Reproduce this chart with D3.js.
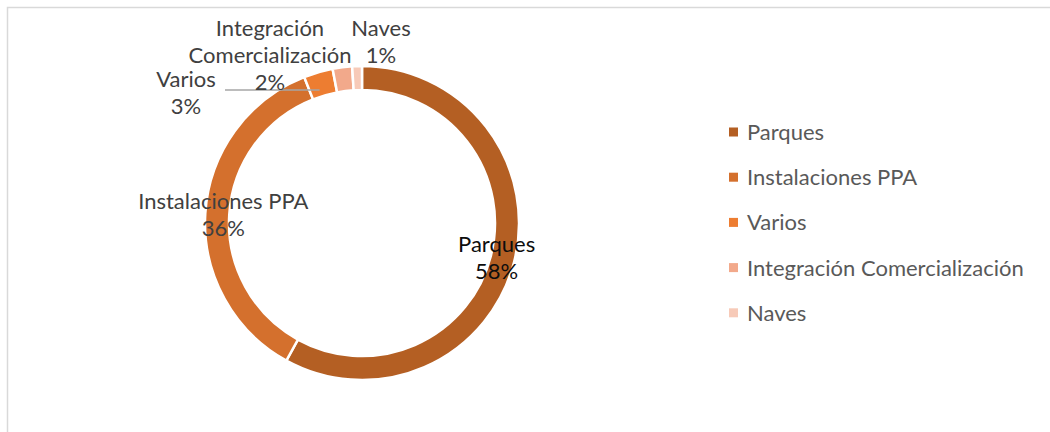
<!DOCTYPE html>
<html>
<head>
<meta charset="utf-8">
<script src="https://d3js.org/d3.v7.min.js"></script>
<style>
  body { margin: 0; background: #fff; }
  svg { display: block; font-family: Lato, "Open Sans", sans-serif; }
</style>
</head>
<body>
<svg id="chart" width="1050" height="432"></svg>
<script>

// data
var categories = ["Parques", "Instalaciones PPA", "Varios", "Integración Comercialización", "Naves"];
var values = [58, 36, 3, 2, 1];
var pctLabels = ["58%", "36%", "3%", "2%", "1%"];
var colors = ["#b45f23", "#d4702d", "#ed7d31", "#f2a98b", "#f7cab8"];

// label text lines (Excel wraps the long name)
var labelNames = [["Parques"], ["Instalaciones PPA"], ["Varios"], ["Integración", "Comercialización"], ["Naves"]];

var svg = d3.select("#chart");
var W = +svg.attr("width"), H = +svg.attr("height");

var cx = 362, cy = 223;
var rOuter = 157, rInner = 133;

// chart frame (only top and left visible)
svg.append("path")
  .attr("d", "M 7.5 " + H + " L 7.5 7.5 L " + W + " 7.5")
  .attr("fill", "none")
  .attr("stroke", "#d9d9d9")
  .attr("stroke-width", 1.5);

var pie = d3.pie().sort(null).value(function(d){ return d; });
var arcs = pie(values);

var arc = d3.arc().innerRadius(rInner).outerRadius(rOuter);
var labelArc = d3.arc().innerRadius(139).outerRadius(139);

var g = svg.append("g").attr("transform", "translate(" + cx + "," + cy + ")");

g.selectAll("path.slice")
  .data(arcs)
  .enter()
  .append("path")
  .attr("class", "slice")
  .attr("d", arc)
  .attr("fill", function(d, i){ return colors[i]; })
  .attr("stroke", "#fff")
  .attr("stroke-width", 2.5);

// small slices have labels dragged outside the ring (offsets from centre)
var outsideLabel = {
  2: [-176, -131],
  3: [-92, -168],
  4: [19, -182]
};

var lineH = 27;

// leader line for Varios
g.append("line")
  .attr("x1", outsideLabel[2][0] + 39).attr("y1", -133)
  .attr("x2", arc.centroid(arcs[2])[0] - 2).attr("y2", -133)
  .attr("stroke", "#a6a6a6")
  .attr("stroke-width", 1.5);

arcs.forEach(function(d, i){
  var p = outsideLabel[i] ? outsideLabel[i] : labelArc.centroid(d);
  var lines = labelNames[i].concat([pctLabels[i]]);
  var top = p[1] - (lines.length - 1) * lineH / 2;
  var t = g.append("text")
    .attr("text-anchor", "middle")
    .attr("font-size", "22px")
    .attr("fill", i == 0 ? "#0d0d0d" : "#404040");
  lines.forEach(function(s, k){
    t.append("tspan")
      .attr("x", p[0])
      .attr("y", top + k * lineH + 8)
      .text(s);
  });
});

// legend
var legend = svg.append("g").attr("transform", "translate(729,132)");
var rows = legend.selectAll("g")
  .data(categories)
  .enter()
  .append("g")
  .attr("transform", function(d, i){ return "translate(0," + (i * 45.2) + ")"; });

rows.append("rect")
  .attr("x", 0).attr("y", -4.5)
  .attr("width", 9).attr("height", 9)
  .attr("fill", function(d, i){ return colors[i]; });

rows.append("text")
  .attr("x", 18)
  .attr("y", 8)
  .attr("font-size", "22px")
  .attr("fill", "#595959")
  .text(function(d){ return d; });

</script>
</body>
</html>
